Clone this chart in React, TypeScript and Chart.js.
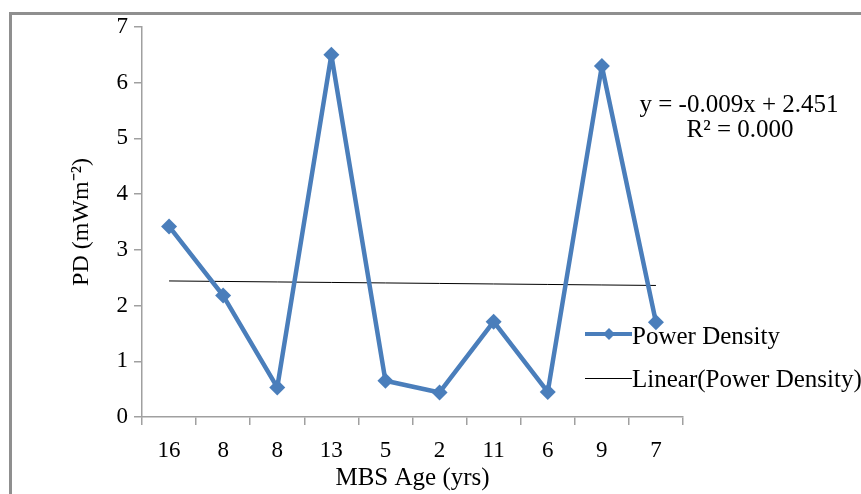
import React, { useEffect, useRef } from "react";
import { Chart, registerables } from "chart.js";
Chart.register(...registerables);

const categories = ["16", "8", "8", "13", "5", "2", "11", "6", "9", "7"];
const powerDensity = [3.42, 2.18, 0.53, 6.5, 0.65, 0.44, 1.71, 0.45, 6.3, 1.7];
const trendSlope = -0.009;
const trendIntercept = 2.451;
const equationLines = ["y = -0.009x + 2.451", "R² = 0.000"];
const legendLabels = ["Power Density", "Linear(Power Density)"];
const yMin = 0;
const yMax = 7;

const FONT = "'Liberation Serif', 'Times New Roman', serif";
const BLUE = "#4a7ebb";

const overlayPlugin = {
  id: "overlay",
  afterDraw(chart: any) {
    const ctx = chart.ctx;
    ctx.save();
    ctx.fillStyle = "#000";
    ctx.font = `25px ${FONT}`;
    ctx.textAlign = "center";
    ctx.textBaseline = "middle";
    ctx.fillText(equationLines[0], 739, 105);
    ctx.fillText(equationLines[1], 740, 130);

    // legend
    ctx.textAlign = "left";
    ctx.font = `25px ${FONT}`;
    // row 1
    ctx.strokeStyle = BLUE;
    ctx.lineWidth = 4;
    ctx.beginPath();
    ctx.moveTo(585, 334);
    ctx.lineTo(632, 334);
    ctx.stroke();
    ctx.fillStyle = BLUE;
    ctx.beginPath();
    ctx.moveTo(609, 328);
    ctx.lineTo(615, 334);
    ctx.lineTo(609, 340);
    ctx.lineTo(603, 334);
    ctx.closePath();
    ctx.fill();
    ctx.fillStyle = "#000";
    ctx.fillText(legendLabels[0], 632, 337);
    // row 2
    ctx.strokeStyle = "#000";
    ctx.lineWidth = 1;
    ctx.beginPath();
    ctx.moveTo(585, 378.5);
    ctx.lineTo(632, 378.5);
    ctx.stroke();
    ctx.fillText(legendLabels[1], 632, 380);
    ctx.restore();
  },
};

export default function App() {
  const ref = useRef<HTMLCanvasElement>(null);
  useEffect(() => {
    if (!ref.current) return;
    const trend = categories.map((_, i) => trendSlope * (i + 1) + trendIntercept);
    const chart = new Chart(ref.current, {
      type: "line",
      data: {
        labels: categories,
        datasets: [
          {
            label: legendLabels[0],
            data: powerDensity,
            borderColor: BLUE,
            backgroundColor: BLUE,
            borderWidth: 4.5,
            borderJoinStyle: "round",
            pointStyle: "rectRot",
            pointRadius: 8,
            pointBorderWidth: 0,
            pointBackgroundColor: BLUE,
            tension: 0,
            order: 1,
          },
          {
            label: legendLabels[1],
            data: trend,
            borderColor: "#000",
            borderWidth: 1,
            pointRadius: 0,
            tension: 0,
            order: 2,
          },
        ],
      },
      options: {
        responsive: false,
        animation: false,
        layout: { padding: { left: 63, right: 178, top: 27, bottom: 0 } },
        plugins: { legend: { display: false }, tooltip: { enabled: false } },
        scales: {
          x: {
            offset: true,
            grid: {
              drawOnChartArea: false,
              drawTicks: true,
              tickLength: 8,
              offset: true,
              color: "#a0a0a0",
              lineWidth: 1.5,
            },
            border: { color: "#a0a0a0", width: 1.5 },
            ticks: {
              color: "#000",
              font: { family: FONT, size: 23 },
              padding: 12,
              maxRotation: 0,
              autoSkip: false,
            },
            title: {
              display: true,
              text: "MBS Age (yrs)",
              color: "#000",
              font: { family: FONT, size: 25 },
              padding: { top: 0, bottom: 1 },
            },
            afterFit(scale: any) {
              scale.height = 77;
            },
          },
          y: {
            min: yMin,
            max: yMax,
            ticks: {
              stepSize: 1,
              color: "#000",
              font: { family: FONT, size: 23 },
              padding: 6,
            },
            grid: {
              drawOnChartArea: false,
              drawTicks: true,
              tickLength: 8,
              color: "#a0a0a0",
              lineWidth: 1.5,
            },
            border: { color: "#a0a0a0", width: 1.5 },
            title: {
              display: true,
              text: "PD (mWm⁻²)",
              color: "#000",
              font: { family: FONT, size: 24 },
              padding: { top: 4, bottom: 4 },
            },
            afterFit(scale: any) {
              scale.width = 79;
            },
          },
        },
      },
      plugins: [overlayPlugin],
    });
    return () => chart.destroy();
  }, []);

  return (
    <div
      style={{
        position: "fixed",
        left: 0,
        top: 0,
        width: 861,
        height: 494,
        overflow: "hidden",
        background: "#fff",
      }}
    >
      <div
        style={{
          position: "absolute",
          left: 9,
          top: 12,
          width: 900,
          height: 600,
          border: "3px solid #8f8f8f",
          boxSizing: "border-box",
        }}
      />
      <canvas
        ref={ref}
        width={861}
        height={494}
        style={{ position: "absolute", left: 0, top: 0, width: 861, height: 494 }}
      />
    </div>
  );
}
